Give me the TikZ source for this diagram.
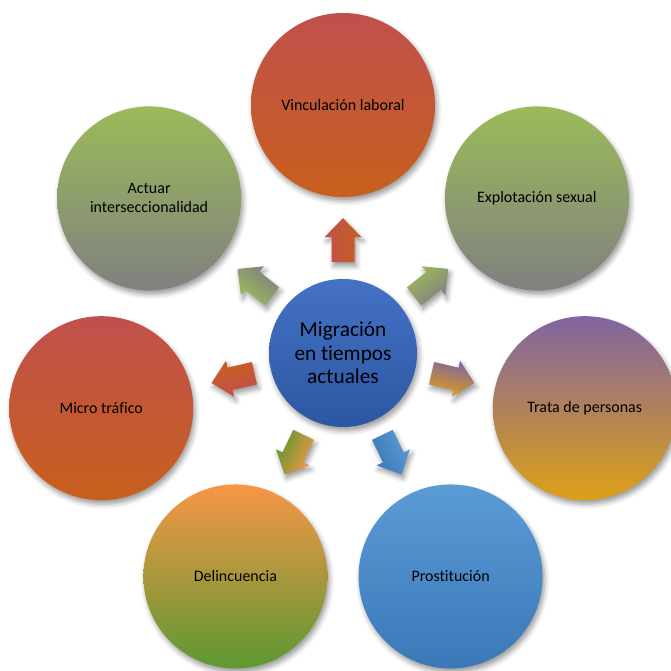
\documentclass[tikz,border=0pt]{standalone}
\usepackage{fontspec}
\setmainfont{Carlito}[Ligatures=NoCommon]
\usetikzlibrary{calc,positioning,shadows.blur}

\definecolor{redtop}{RGB}{192,80,77}
\definecolor{redbot}{RGB}{200,95,28}
\definecolor{greentop}{RGB}{155,187,89}
\definecolor{greybot}{RGB}{128,128,128}
\definecolor{purpletop}{RGB}{128,100,162}
\definecolor{goldbot}{RGB}{222,160,22}
\definecolor{bluetop}{RGB}{91,155,213}
\definecolor{bluebot}{RGB}{58,120,184}
\definecolor{orangetop}{RGB}{247,150,70}
\definecolor{leafbot}{RGB}{92,152,50}
\definecolor{hubtop}{RGB}{68,114,196}
\definecolor{hubbot}{RGB}{44,86,162}

\tikzset{
  softshadow/.style={blur shadow={shadow xshift=2pt,shadow yshift=-4pt,shadow blur radius=5pt,shadow opacity=40}},
  bubble/.style={circle,minimum size=184pt,inner sep=0pt,align=center,softshadow,
    font=\fontsize{16}{19}\selectfont},
  hub/.style={circle,minimum size=148pt,inner sep=0pt,align=center,softshadow,
    top color=hubtop,bottom color=hubbot,font=\fontsize{21.3}{23.5}\selectfont},
  redfill/.style={top color=redtop,bottom color=redbot},
  greenfill/.style={top color=greentop,bottom color=greybot},
  purplefill/.style={top color=purpletop,bottom color=goldbot},
  bluefill/.style={top color=bluetop,bottom color=bluebot},
  orangefill/.style={top color=orangetop,bottom color=leafbot}
}

% block arrow: #1 start node, #2 end node, #3 angle, #4 fill style
\newcommand{\blockarr}[4]{%
  \path[shift={($(#1)!0.455!(#2)$)},rotate=#3,#4,shading angle=#3,softshadow]
    (-22,-11.5) -- (3,-11.5) -- (3,-18.5) -- (22,0) -- (3,18.5) -- (3,11.5) -- (-22,11.5) -- cycle;
}

\begin{document}
\begin{tikzpicture}[x=1pt,y=1pt]
\useasboundingbox (0,0) rectangle (671,670);
\def\dist{248}
\def\angstep{51.4286}
%% centre
\node[hub] (mig) at (343,317) {Migración\\en tiempos\\actuales};
%% outer circles
\node[bubble,redfill]    (vin) at ($(mig)+(90:\dist)$) {Vinculación laboral};
\node[bubble,greenfill]  (exp) at ($(mig)+(90-\angstep:\dist)$) {Explotación sexual};
\node[bubble,purplefill] (tra) at ($(mig)+(90-2*\angstep:\dist)$) {Trata de personas};
\node[bubble,bluefill]   (pro) at ($(mig)+(90-3*\angstep:\dist)$) {Prostitución};
\node[bubble,orangefill] (del) at ($(mig)+(90-4*\angstep:\dist)$) {Delincuencia};
\node[bubble,redfill]    (mic) at ($(mig)+(90-5*\angstep:\dist)$) {Micro tráfico};
\node[bubble,greenfill]  (act) at ($(mig)+(90-6*\angstep:\dist)$) {Actuar\\interseccionalidad};
%% arrows
\blockarr{mig}{vin}{90}{redfill}
\blockarr{mig}{exp}{90-\angstep}{greenfill}
\blockarr{mig}{tra}{90-2*\angstep}{purplefill}
\blockarr{mig}{pro}{90-3*\angstep}{bluefill}
\blockarr{mig}{del}{90-4*\angstep}{orangefill}
\blockarr{mig}{mic}{90-5*\angstep}{redfill}
\blockarr{mig}{act}{90-6*\angstep}{greenfill}
\end{tikzpicture}
\end{document}
